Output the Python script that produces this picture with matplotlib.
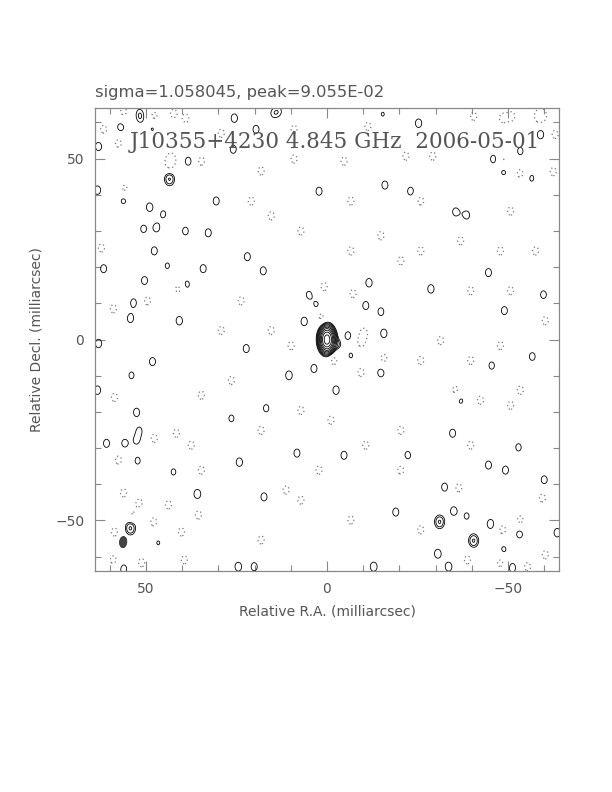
import numpy as np
import matplotlib
matplotlib.use("Agg")
import matplotlib.pyplot as plt
from matplotlib.patches import Ellipse

# map statistics (title line)
sigma_txt = "sigma=1.058045, peak=9.055E-02"
map_title = "J10355+4230 4.845 GHz  2006-05-01"

# core component: RA, Dec (mas), peak (sigma units), width, height (mas)
core_ra = [0.0, -3.0]
core_dec = [0.0, -1.4]
core_amp = [85.6, 3.6]
core_sx = [1.15, 0.9]
core_sy = [1.9, 1.1]

# positive noise islands: RA, Dec (mas), peak in sigma
pos_ra = [63.1, 57.0, 51.8, 51.5, 48.2, 25.6, 14.9, 13.2, 19.6, -15.4,
          -25.3, -59.0, -53.4, 38.3, 25.9, -46.0, -48.8, -56.5,
          5.0, 2.8, 6.3, -5.8, -6.6, 3.6, 10.5, -2.5, -14.9, -10.7,
          -14.9, -15.7, -11.6,
          54.3, 51.5, 35.8, 46.6, 56.2,
          -32.5, -35.0, -38.6, -31.1, -45.2, -53.2, -40.5, -30.6, -33.6,
          -48.8, -51.2, -63.6, -60.0, 24.5, 20.1, -12.9,
          63.1,
          43.5, 63.4, 56.2, 49.0, 45.2, 50.7, 47.1, 47.7, 61.7, 44.1,
          50.4, 53.4, 40.8, 54.3, 48.2, 54.0, 63.4, 52.6, 51.8, 60.9,
          55.9, 52.6, 52.3, 42.4,
          30.6, 32.8, 39.1, 22.0, 17.6, 34.2, 38.8, 2.2, -16.0, -23.1,
          -35.5, -38.6, -28.7, -44.6, -49.0, -59.8, -56.7, 22.3,
          24.2, 8.3, -4.7, -34.7, -44.6, -49.3, -19.0, 17.4,
          -60.3, -52.9, -22.3, -45.5, -36.9, 16.8, 26.4]
pos_dec = [53.4, 58.7, 62.8, 60.9, 58.4, 61.2, 62.5, 63.1, 58.1, 62.3,
           59.8, 56.7, 52.1, 49.3, 52.6, 49.9, 46.6, 44.6,
           12.4, 9.4, 5.0, 1.1, -4.4, -8.0, -9.9, -14.0, -9.1, 9.4,
           7.7, 1.7, 15.7,
           -52.1, -49.0, -42.7, -56.2, -63.4,
           -40.8, -47.4, -48.8, -50.4, -51.0, -53.7, -55.6, -59.2, -62.8,
           -58.1, -63.1, -53.4, -38.8, -62.8, -62.8, -62.8,
           -1.1,
           44.4, 41.3, 38.6, 36.6, 34.7, 30.6, 30.9, 24.5, 19.6, 20.4,
           16.3, 10.2, 5.2, 5.8, -6.1, -9.9, -14.0, -20.1, -25.1, -28.7,
           -28.7, -28.0, -33.5, -36.6,
           38.3, 29.5, 30.0, 22.9, 19.0, 19.6, 15.2, 41.0, 42.7, 41.0,
           35.3, 34.4, 14.0, 18.5, 8.0, 12.4, -4.7, -2.5,
           -33.9, -31.4, -32.0, -25.9, -34.7, -36.1, -47.7, -43.5,
           -23.1, -29.8, -32.0, -7.2, -16.8, -19.0, -21.8]
pos_amp = [4.0, 4.0, 2.8, 2.8, 3.4, 4.0, 3.0, 3.0, 3.9, 3.2,
           4.0, 4.1, 3.7, 3.9, 3.9, 3.9, 4.0, 3.5,
           3.6, 3.6, 4.0, 3.8, 3.3, 3.9, 4.1, 4.0, 4.1, 3.9,
           3.8, 4.0, 4.0,
           6.5, 3.8, 4.2, 3.2, 4.0,
           3.9, 4.0, 3.5, 6.3, 4.2, 4.0, 6.3, 4.1, 4.1,
           3.6, 4.1, 4.0, 3.9, 4.1, 3.9, 4.2,
           4.0,
           6.3, 4.0, 3.9, 4.0, 3.5, 3.7, 3.9, 3.9, 3.9, 3.4,
           3.9, 3.8, 4.0, 3.9, 3.9, 3.6, 4.0, 3.9, 3.3, 3.9,
           3.8, 3.3, 3.6, 3.5,
           3.9, 3.9, 3.8, 3.9, 3.9, 3.9, 3.9, 3.9, 3.9, 3.9,
           3.8, 3.8, 4.0, 3.9, 3.9, 3.8, 3.8, 3.9,
           4.0, 3.9, 3.9, 3.9, 3.9, 3.9, 3.9, 3.9,
           3.8, 3.7, 3.8, 3.7, 3.6, 3.7, 3.6]

# negative noise islands (drawn dotted)
neg_ra = [61.7, 57.6, 56.2, 47.7, 42.4, 39.0, 29.2, 9.1, -11.3, -40.5,
          -48.5, -58.4, -21.8, -29.2, -4.7, 9.1, 43.0, -48.8, -51.0,
          -59.5, -63.0, -53.4, -62.5,
          0.8, -7.2, 1.7, 9.9, -10.2, -9.4, -1.9, -9.4, -15.7,
          53.4, 47.9, 58.7, 59.0, 51.2, 56.2, 51.8, 43.8, 35.5, 40.2,
          39.4, -36.4, -59.5, -53.4, -48.5, -38.8, -47.9, -55.4, -60.3,
          43.5, 55.9, 62.3, 59.0, 41.0, 49.6, 58.7, 41.6, 47.7, 57.6,
          18.2, 7.2, -6.6, -25.9, -39.7, -47.9, -31.4, -53.4, -42.4,
          -20.4, 18.2, 26.4, 29.2, 15.4, 34.7, 7.2, -6.6, -25.9, 18.2,
          -59.0, -50.7, -25.9, 20.9, 34.7,
          37.5, 11.3, 2.2, -10.7, -20.4, -39.7, -50.7,
          -35.5, -25.9, -39.7, -47.9, -60.3, -50.7, -20.4, -14.9, -36.9,
          -57.6, -6.6, 15.4, 23.7, 34.7, 7.2, -1.1]
neg_dec = [58.1, 54.3, 63.0, 61.7, 62.5, 61.2, 57.0, 58.1, 58.9, 61.7,
           61.2, 61.7, 50.7, 50.7, 49.3, 49.9, 50.1, 49.3, 61.7,
           62.0, 56.7, 45.9, 46.4,
           14.6, 12.7, 6.6, -1.7, 1.9, -0.8, -5.8, -9.1, -5.2,
           -48.5, -50.4, -53.2, -60.9, -61.7, -42.4, -45.2, -45.7, -48.5, -53.2,
           -60.9, -41.0, -43.8, -49.9, -52.6, -60.9, -61.7, -62.8, -59.5,
           48.5, 41.6, 25.3, 8.5, 14.0, 10.7, -16.0, -25.9, -27.3, -33.3,
           46.6, 30.0, 24.5, 24.5, 13.5, 24.5, -0.3, -14.0, -16.8,
           -25.1, -25.1, -11.3, 2.5, 2.5, -36.1, -44.4, -49.9, -52.6, -55.4,
           -22.3, 35.5, 38.3, 38.3, 49.3,
           -29.2, -41.6, -36.1, -29.2, -36.1, -29.2, -18.2,
           -14.0, -5.8, -5.8, -1.7, 5.2, 13.5, 21.8, 28.7, 27.3,
           24.5, 38.3, 34.2, 10.7, -15.4, -19.6, -22.3]
neg_amp = [-3.9] * len(neg_ra)

# restoring beam: centre (mas), axes (mas), position angle (deg)
beam_ra, beam_dec = 56.3, -56.0
beam_major, beam_minor, beam_pa = 3.1, 2.0, 5.0

# contour levels in sigma units: -3, 3 x sqrt(2)^k
pos_levels = [3.0 * np.sqrt(2.0) ** k for k in range(11)]
neg_levels = [-3.0]

# build the map on a grid
ra = np.arange(66.0, -66.01, -0.25)
dec = np.arange(-66.0, 66.01, 0.25)
X, Y = np.meshgrid(ra, dec)
Z = np.zeros_like(X)
for x0, y0, a, sx, sy in zip(core_ra, core_dec, core_amp, core_sx, core_sy):
    Z += a * np.exp(-0.5 * (((X - x0) / sx) ** 2 + ((Y - y0) / sy) ** 2))
noise_sx, noise_sy = 1.15, 1.55
for x0, y0, a in zip(pos_ra + neg_ra, pos_dec + neg_dec, pos_amp + neg_amp):
    Z += a * np.exp(-0.5 * (((X - x0) / noise_sx) ** 2 + ((Y - y0) / noise_sy) ** 2))

fig = plt.figure(figsize=(6.12, 7.92), dpi=100)
ax = fig.add_axes([0.1557, 0.279, 0.7572, 0.5846])

ax.contour(X, Y, Z, levels=pos_levels, colors="black", linewidths=0.6)
ax.contour(X, Y, Z, levels=neg_levels, colors="#777777", linewidths=0.9,
           linestyles=[(0, (1, 2.2))])

ax.add_patch(Ellipse((beam_ra, beam_dec), beam_minor, beam_major, angle=beam_pa,
                     facecolor="#444444", edgecolor="#333333", lw=0.6))

ax.set_xlim(64, -64)
ax.set_ylim(-64, 64)
ax.set_xticks([50, 0, -50])
ax.set_yticks([-50, 0, 50])
ax.set_xticks(np.arange(-60, 61, 10), minor=True)
ax.set_yticks(np.arange(-60, 61, 10), minor=True)
ax.tick_params(which="both", direction="in", top=True, right=True,
               colors="#888888", labelcolor="#555555", labelsize=10, pad=8)
ax.tick_params(which="major", length=7, width=0.8)
ax.tick_params(which="minor", length=4, width=0.8)
for s in ax.spines.values():
    s.set_color("#888888")
    s.set_linewidth(0.9)

ax.set_xlabel("Relative R.A. (milliarcsec)", fontsize=10, color="#555555", labelpad=6)
ax.set_ylabel("Relative Decl. (milliarcsec)", fontsize=10, color="#555555", labelpad=8)

ax.text(54.5, 52.9, map_title, family="DejaVu Serif", fontsize=15.5,
        color="#555555", ha="left", va="baseline")
fig.text(95 / 612, 1 - 97 / 792, sigma_txt, fontsize=11.8, color="#555555",
         ha="left", va="baseline")

fig.savefig("out.png", dpi=100)
